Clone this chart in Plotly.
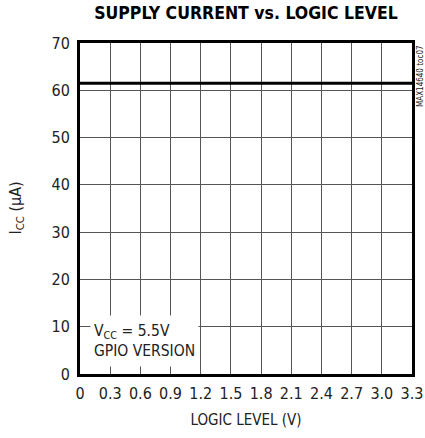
import plotly.graph_objects as go

# Data
logic_level = [0, 0.5, 1.0, 1.5, 2.0, 2.5, 3.0, 3.3]
icc_ua = [61.5, 61.5, 61.5, 61.5, 61.5, 61.5, 61.5, 61.5]
x_ticks = [0, 0.3, 0.6, 0.9, 1.2, 1.5, 1.8, 2.1, 2.4, 2.7, 3.0, 3.3]
x_tick_labels = ["0", "0.3", "0.6", "0.9", "1.2", "1.5", "1.8", "2.1", "2.4", "2.7", "3.0", "3.3"]
y_ticks = [0, 10, 20, 30, 40, 50, 60, 70]

FONT = "DejaVu Sans Condensed, DejaVu Sans, sans-serif"

fig = go.Figure()
fig.add_trace(go.Scatter(
    x=logic_level, y=icc_ua, mode="lines",
    line=dict(color="black", width=3), showlegend=False, hoverinfo="skip"
))

axis_common = dict(
    showgrid=True, gridcolor="#555555", gridwidth=1,
    showline=True, linecolor="black", linewidth=3, mirror=True,
    ticks="inside", ticklen=6, tickcolor="#555555", tickwidth=1,
    zeroline=False, automargin=False,
    tickfont=dict(family=FONT, size=16, color="#222"),
)

fig.update_xaxes(range=[0, 3.3], tickvals=x_ticks, ticktext=x_tick_labels,
                 ticklabelstandoff=3,
                 title=dict(text="LOGIC LEVEL (V)", font=dict(family=FONT, size=15, color="#222"), standoff=13),
                 **axis_common)
fig.update_yaxes(range=[0, 70], tickvals=y_ticks, ticklabelstandoff=4, **axis_common)

fig.add_annotation(
    text="I<sub>CC</sub> (µA)", xref="paper", yref="paper", x=0, y=0.5,
    xshift=-64, textangle=-90, showarrow=False,
    font=dict(family=FONT, size=16, color="#222"), xanchor="center", yanchor="middle"
)
fig.add_annotation(
    text="MAX14640 toc07", xref="paper", yref="paper", x=1, y=1,
    xshift=8, textangle=-90, showarrow=False,
    font=dict(family=FONT, size=8, color="#222"), xanchor="center", yanchor="top"
)
fig.add_annotation(
    text="V<sub>CC</sub> = 5.5V<br>GPIO VERSION", xref="x", yref="y", x=0, y=0,
    xshift=10, yshift=7, xanchor="left", yanchor="bottom", showarrow=False,
    align="left", valign="middle", bgcolor="white", borderpad=3,
    width=101, height=44,
    font=dict(family=FONT, size=15.5, color="#222")
)

fig.update_layout(
    width=425, height=438,
    margin=dict(l=80, r=13, t=43, b=64),
    paper_bgcolor="white", plot_bgcolor="white",
    title=dict(text="<b>SUPPLY CURRENT vs. LOGIC LEVEL</b>", xref="paper", x=0.5, xanchor="center",
               yref="container", y=1, yanchor="top", pad=dict(t=7, b=0, l=0, r=0),
               font=dict(family=FONT, size=17.5, color="black")),
)

# remove the page's default body margin so the figure fills the window exactly
fig.write_html("out.html", config={"displayModeBar": False},
               post_script="document.body.style.margin='0';")
